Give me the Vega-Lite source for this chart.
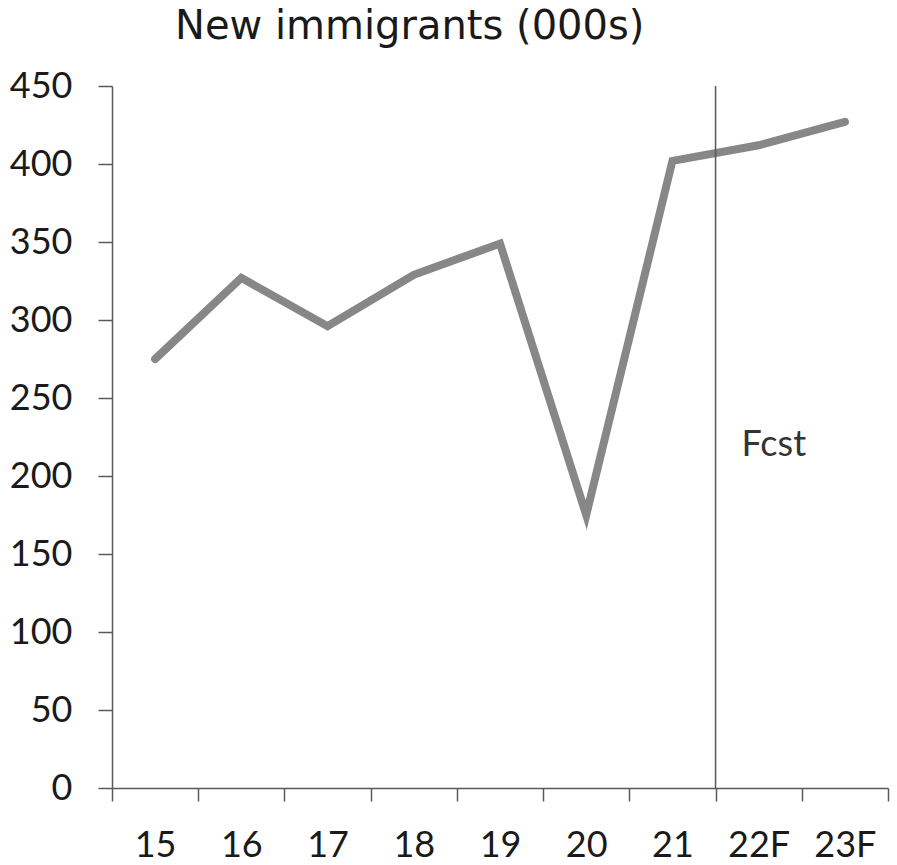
{
  "$schema": "https://vega.github.io/schema/vega-lite/v6.json",
  "width": 776,
  "height": 702,
  "autosize": "none",
  "padding": {"left": 112, "top": 86, "right": 9, "bottom": 77},
  "background": "white",
  "title": {
    "text": "New immigrants (000s)",
    "anchor": "start",
    "frame": "group",
    "dx": 63,
    "offset": -11,
    "baseline": "alphabetic",
    "font": "DejaVu Sans",
    "fontSize": 40,
    "fontWeight": "normal",
    "color": "#1a1a1a"
  },
  "config": {
    "view": {"stroke": null},
    "axis": {
      "labelFont": "Lato",
      "labelFontSize": 36,
      "labelColor": "#1a1a1a",
      "domainColor": "#595959",
      "tickColor": "#595959",
      "domainWidth": 1.5,
      "tickWidth": 1.5,
      "grid": false,
      "title": null
    }
  },
  "data": {
    "values": [
      {"year": "15", "value": 275},
      {"year": "16", "value": 327},
      {"year": "17", "value": 296},
      {"year": "18", "value": 329},
      {"year": "19", "value": 349},
      {"year": "20", "value": 175},
      {"year": "21", "value": 402},
      {"year": "22F", "value": 412},
      {"year": "23F", "value": 427}
    ]
  },
  "layer": [
    {
      "mark": {"type": "line", "color": "#878787", "strokeWidth": 8, "strokeCap": "round", "strokeJoin": "miter"},
      "encoding": {
        "x": {
          "field": "year",
          "type": "ordinal",
          "sort": null,
          "scale": {"paddingInner": 0, "paddingOuter": 0},
          "axis": {"labelAngle": 0, "tickBand": "extent", "tickSize": 13, "labelPadding": 27, "labelBaseline": "top"}
        },
        "y": {
          "field": "value",
          "type": "quantitative",
          "scale": {"domain": [0, 450], "nice": false},
          "axis": {"values": [0, 50, 100, 150, 200, 250, 300, 350, 400, 450], "tickSize": 14, "labelPadding": 26}
        }
      }
    },
    {
      "data": {"values": [{"year": "22F"}]},
      "mark": {"type": "rule", "color": "#595959", "strokeWidth": 1.5},
      "encoding": {
        "x": {"field": "year", "type": "ordinal", "bandPosition": 0}
      }
    },
    {
      "data": {"values": [{"year": "22F", "value": 220, "label": "Fcst"}]},
      "mark": {"type": "text", "align": "left", "baseline": "middle", "dx": 26, "font": "Lato", "fontSize": 36, "color": "#333333"},
      "encoding": {
        "x": {"field": "year", "type": "ordinal", "bandPosition": 0},
        "y": {"field": "value", "type": "quantitative"},
        "text": {"field": "label"}
      }
    }
  ]
}
